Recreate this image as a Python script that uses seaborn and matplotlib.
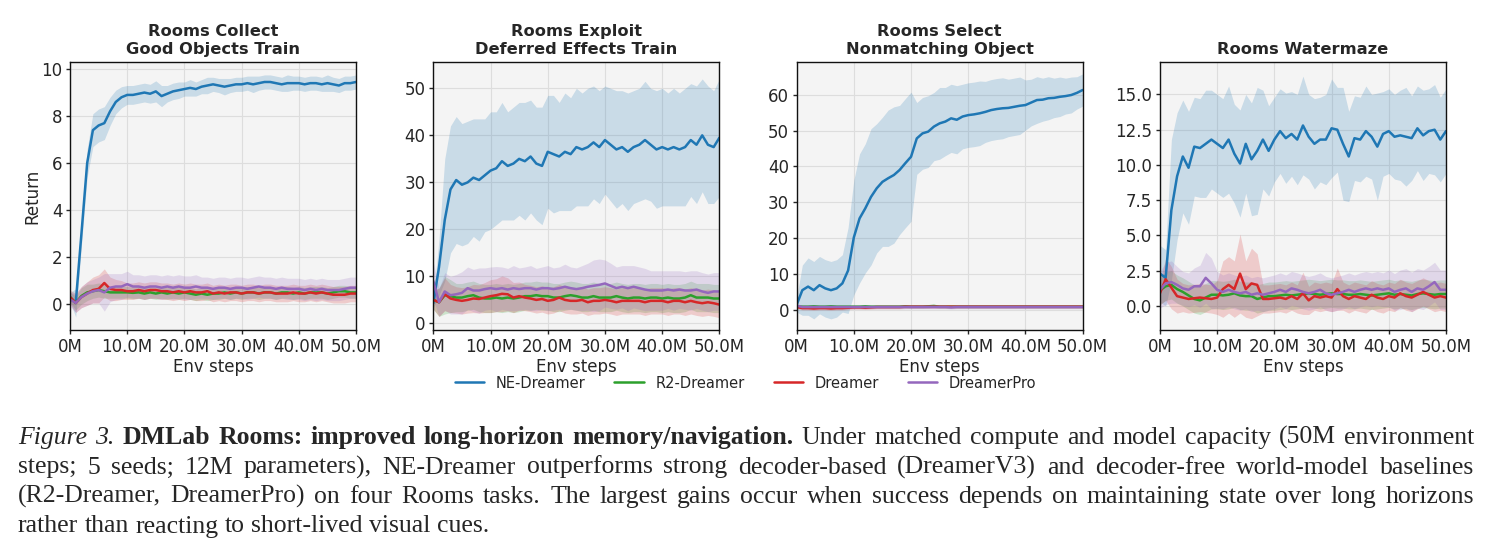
import numpy as np
import pandas as pd
import matplotlib
matplotlib.use("Agg")
import matplotlib.pyplot as plt
import seaborn as sns

# x axis: env steps in millions (one point per 1M)
steps_m = list(range(0, 51))
xtick_vals = [0, 10, 20, 30, 40, 50]
xtick_labels = ["0M", "10.0M", "20.0M", "30.0M", "40.0M", "50.0M"]

methods = ["NE-Dreamer", "R2-Dreamer", "Dreamer", "DreamerPro"]
colors = ["#1f77b4", "#2ca02c", "#d62728", "#9467bd"]

# ---- Rooms Collect Good Objects Train ----
collect_ne = [0.3, 0.05, 3.0, 6.0, 7.4, 7.6, 7.7, 8.2, 8.6, 8.8,
              8.9, 8.9, 8.95, 9.0, 8.95, 9.05, 8.85, 8.95, 9.05, 9.1,
              9.15, 9.2, 9.15, 9.25, 9.3, 9.35, 9.3, 9.25, 9.3, 9.35,
              9.35, 9.4, 9.35, 9.4, 9.45, 9.45, 9.4, 9.35, 9.4, 9.4,
              9.4, 9.35, 9.4, 9.4, 9.35, 9.4, 9.35, 9.3, 9.4, 9.4,
              9.45]
collect_ne_sd = [0.2, 0.6, 0.5, 0.6, 0.7, 0.7, 0.7, 0.6, 0.5, 0.45,
                 0.4, 0.4, 0.4, 0.4, 0.4, 0.45, 0.45, 0.35, 0.35, 0.35,
                 0.3, 0.35, 0.3, 0.3, 0.35, 0.3, 0.3, 0.35, 0.3, 0.3,
                 0.3, 0.3, 0.35, 0.3, 0.3, 0.3, 0.3, 0.3, 0.35, 0.3,
                 0.3, 0.3, 0.3, 0.3, 0.3, 0.35, 0.3, 0.3, 0.3, 0.3,
                 0.3]
collect_r2 = [0.3, 0.05, 0.35, 0.5, 0.55, 0.6, 0.55, 0.5, 0.5, 0.5,
              0.5, 0.48, 0.5, 0.45, 0.5, 0.45, 0.5, 0.45, 0.5, 0.45,
              0.5, 0.45, 0.4, 0.45, 0.4, 0.45, 0.45, 0.5, 0.45, 0.5,
              0.45, 0.5, 0.5, 0.45, 0.5, 0.5, 0.45, 0.5, 0.5, 0.45,
              0.5, 0.45, 0.5, 0.5, 0.5, 0.45, 0.5, 0.55, 0.55, 0.5,
              0.5]
collect_r2_sd = [0.2, 0.3, 0.35, 0.35, 0.3, 0.3, 0.3, 0.25, 0.25, 0.25,
                 0.25, 0.25, 0.25, 0.25, 0.25, 0.25, 0.25, 0.25, 0.25, 0.25,
                 0.25, 0.25, 0.25, 0.25, 0.25, 0.25, 0.25, 0.25, 0.25, 0.25,
                 0.25, 0.25, 0.25, 0.25, 0.25, 0.25, 0.25, 0.25, 0.25, 0.25,
                 0.25, 0.25, 0.25, 0.25, 0.25, 0.25, 0.25, 0.25, 0.25, 0.25,
                 0.25]
collect_dr = [0.3, 0.05, 0.3, 0.45, 0.6, 0.65, 0.9, 0.65, 0.6, 0.6,
              0.55, 0.55, 0.6, 0.55, 0.6, 0.6, 0.55, 0.55, 0.5, 0.55,
              0.5, 0.55, 0.5, 0.5, 0.55, 0.45, 0.5, 0.45, 0.5, 0.5,
              0.45, 0.5, 0.5, 0.45, 0.5, 0.5, 0.45, 0.45, 0.45, 0.5,
              0.45, 0.45, 0.5, 0.45, 0.5, 0.45, 0.4, 0.4, 0.4, 0.45,
              0.45]
collect_dr_sd = [0.3, 0.4, 0.45, 0.5, 0.55, 0.6, 0.6, 0.5, 0.45, 0.4,
                 0.35, 0.35, 0.35, 0.35, 0.35, 0.35, 0.35, 0.35, 0.35, 0.35,
                 0.35, 0.35, 0.35, 0.35, 0.35, 0.35, 0.35, 0.35, 0.35, 0.35,
                 0.35, 0.35, 0.35, 0.35, 0.35, 0.35, 0.35, 0.35, 0.35, 0.35,
                 0.35, 0.35, 0.35, 0.35, 0.35, 0.35, 0.35, 0.35, 0.35, 0.35,
                 0.35]
collect_pro = [0.2, 0.05, 0.3, 0.45, 0.55, 0.6, 0.5, 0.7, 0.75, 0.75,
               0.85, 0.75, 0.75, 0.7, 0.75, 0.75, 0.7, 0.75, 0.7, 0.75,
               0.7, 0.7, 0.75, 0.7, 0.7, 0.65, 0.7, 0.7, 0.65, 0.7,
               0.7, 0.65, 0.7, 0.75, 0.7, 0.7, 0.65, 0.7, 0.65, 0.65,
               0.65, 0.6, 0.65, 0.6, 0.65, 0.6, 0.6, 0.6, 0.65, 0.7,
               0.7]
collect_pro_sd = [0.3, 0.4, 0.45, 0.5, 0.5, 0.55, 0.8, 0.6, 0.55, 0.55,
                  0.55, 0.5, 0.5, 0.5, 0.5, 0.5, 0.5, 0.5, 0.5, 0.5,
                  0.5, 0.5, 0.5, 0.45, 0.45, 0.45, 0.45, 0.45, 0.45, 0.45,
                  0.45, 0.45, 0.45, 0.45, 0.45, 0.45, 0.45, 0.45, 0.45, 0.45,
                  0.45, 0.45, 0.45, 0.45, 0.45, 0.45, 0.45, 0.45, 0.45, 0.45,
                  0.45]

# ---- Rooms Exploit Deferred Effects Train ----
deferred_ne = [4.3, 12.0, 22.0, 28.5, 30.5, 29.5, 30.0, 31.0, 30.5, 31.5,
               32.5, 33.0, 34.5, 33.5, 34.0, 35.0, 34.5, 35.5, 34.0, 33.5,
               36.5, 36.0, 35.5, 36.5, 36.0, 37.5, 37.0, 37.5, 38.5, 37.5,
               39.0, 38.0, 37.0, 37.5, 36.5, 37.5, 38.0, 39.0, 38.0, 37.0,
               37.5, 37.0, 37.5, 37.0, 37.5, 39.0, 38.0, 40.0, 38.0, 37.5,
               39.5]
deferred_ne_sd = [1.0, 6.0, 13.0, 13.5, 13.5, 13.0, 13.0, 12.5, 13.0, 12.0,
                  12.5, 12.0, 12.5, 11.5, 12.0, 12.0, 12.5, 12.0, 12.0, 12.5,
                  12.0, 12.5, 11.5, 12.5, 12.0, 12.5, 12.0, 12.5, 12.0, 12.0,
                  11.5, 12.0, 12.5, 12.0, 12.5, 12.0, 12.0, 12.5, 12.0, 12.5,
                  12.5, 12.0, 12.5, 12.0, 12.5, 12.0, 12.5, 12.0, 12.5, 12.0,
                  12.5]
deferred_r2 = [5.0, 4.5, 6.0, 5.8, 5.5, 5.5, 5.8, 6.0, 5.5, 5.3,
               5.3, 5.5, 5.3, 5.5, 5.3, 5.5, 5.8, 5.8, 6.0, 5.8,
               5.8, 5.5, 5.5, 5.8, 6.0, 5.8, 5.5, 5.5, 5.8, 5.5,
               5.5, 5.5, 5.8, 5.5, 5.3, 5.5, 5.5, 5.3, 5.5, 5.5,
               5.3, 5.5, 5.3, 5.3, 5.5, 6.0, 5.5, 5.5, 5.5, 5.3,
               5.3]
deferred_r2_sd = [2.0, 3.0, 4.0, 3.5, 3.0, 3.0, 3.0, 3.0, 3.0, 3.0,
                  3.0, 3.0, 3.0, 3.0, 3.0, 3.0, 3.0, 3.0, 3.0, 3.0,
                  3.0, 3.0, 3.0, 3.0, 3.0, 3.0, 3.0, 3.0, 3.0, 3.0,
                  3.0, 3.0, 3.0, 3.0, 3.0, 3.0, 3.0, 3.0, 3.0, 3.0,
                  3.0, 3.0, 3.0, 3.0, 3.0, 3.0, 3.0, 3.0, 3.0, 3.0,
                  3.0]
deferred_dr = [5.0, 4.5, 6.2, 5.3, 5.0, 4.8, 5.0, 5.3, 5.2, 5.5,
               5.8, 6.0, 6.3, 6.2, 5.5, 5.8, 5.5, 5.3, 5.0, 5.2,
               4.8, 5.0, 5.5, 5.0, 4.8, 4.8, 5.0, 4.5, 4.8, 4.8,
               5.0, 4.8, 4.5, 4.8, 4.8, 4.8, 4.8, 4.5, 4.8, 4.8,
               4.8, 4.5, 4.8, 4.8, 4.5, 4.8, 4.5, 4.3, 4.5, 4.3,
               4.0]
deferred_dr_sd = [2.0, 3.0, 3.5, 3.0, 2.8, 2.8, 2.8, 3.0, 3.0, 3.2,
                  3.5, 3.5, 3.8, 3.5, 3.2, 3.0, 2.8, 2.8, 2.8, 2.8,
                  2.8, 2.8, 2.8, 2.8, 2.8, 2.8, 2.8, 2.8, 2.8, 2.8,
                  2.8, 2.8, 2.8, 2.8, 2.8, 2.8, 2.8, 2.8, 2.8, 2.8,
                  2.8, 2.8, 2.8, 2.8, 2.8, 2.8, 2.8, 2.8, 2.8, 2.8,
                  2.8]
deferred_pro = [9.0, 4.5, 6.8, 6.0, 6.2, 6.5, 7.5, 7.0, 7.0, 7.3,
                7.5, 7.3, 7.5, 7.2, 7.5, 7.3, 7.5, 7.5, 7.2, 7.5,
                7.5, 7.3, 7.5, 7.8, 7.5, 7.3, 7.5, 7.8, 8.0, 8.2,
                8.5, 8.0, 7.5, 7.8, 7.5, 7.8, 7.5, 7.2, 7.0, 7.0,
                7.0, 7.2, 7.0, 7.2, 7.0, 7.0, 7.2, 6.8, 6.5, 6.8,
                6.8]
deferred_pro_sd = [4.0, 3.0, 4.0, 4.0, 4.2, 4.5, 4.5, 4.5, 4.8, 4.5,
                   4.5, 4.8, 4.5, 4.5, 4.8, 4.5, 4.5, 4.8, 4.5, 4.5,
                   4.8, 4.5, 4.5, 4.8, 4.5, 4.5, 4.8, 5.0, 5.5, 5.5,
                   5.0, 4.8, 4.5, 4.5, 4.8, 4.5, 4.5, 4.5, 4.2, 4.2,
                   4.2, 4.0, 4.2, 4.0, 4.0, 4.2, 4.0, 4.0, 4.0, 4.0,
                   4.0]

# ---- Rooms Select Nonmatching Object ----
nonmatch_ne = [1.4, 5.5, 6.5, 5.5, 6.9, 6.0, 5.5, 6.0, 7.4, 11.0,
               20.2, 25.5, 28.3, 31.5, 33.9, 35.7, 36.7, 37.6, 39.0, 40.9,
               42.7, 47.8, 49.2, 49.7, 51.1, 52.0, 52.5, 53.4, 53.0, 53.9,
               54.3, 54.5, 54.8, 55.2, 55.7, 56.0, 56.2, 56.3, 56.6, 56.9,
               57.1, 57.8, 58.5, 58.6, 59.0, 59.1, 59.4, 59.6, 59.9, 60.5,
               61.3]
nonmatch_ne_sd = [2.0, 7.0, 8.0, 8.0, 8.0, 8.0, 8.0, 8.0, 8.0, 12.0,
                  16.0, 18.0, 18.0, 19.0, 18.0, 18.0, 19.0, 19.0, 18.0, 18.0,
                  18.0, 10.0, 10.0, 10.0, 9.5, 10.0, 9.5, 9.5, 9.5, 9.0,
                  9.0, 9.0, 9.0, 8.5, 8.5, 8.5, 8.5, 8.0, 8.0, 8.0,
                  7.0, 6.5, 6.5, 6.0, 6.0, 5.5, 5.5, 5.0, 5.0, 4.5,
                  4.5]
nonmatch_r2 = [1.0, 0.9, 0.9, 1.0, 0.9, 0.9, 1.0, 0.9, 0.9, 0.9,
               0.9, 0.9, 1.0, 0.9, 0.9, 0.9, 0.9, 0.9, 0.9, 1.0,
               0.9, 0.9, 0.9, 1.0, 1.1, 0.9, 0.9, 0.9, 0.9, 0.9,
               0.9, 0.9, 0.9, 0.9, 0.9, 0.9, 0.9, 0.9, 0.9, 0.9,
               0.9, 0.9, 0.9, 0.9, 0.9, 0.9, 0.9, 0.9, 0.9, 0.9,
               0.9]
nonmatch_r2_sd = [0.4] * 51
nonmatch_dr = [0.8, 0.5, 0.5, 0.4, 0.5, 0.5, 0.4, 0.5, 0.5, 0.6,
               0.7, 0.7, 0.6, 0.7, 0.8, 0.8, 0.8, 0.8, 0.8, 0.9,
               0.9, 0.9, 0.9, 0.9, 0.9, 0.9, 0.9, 0.9, 0.9, 0.9,
               0.9, 0.9, 0.9, 0.9, 0.9, 0.9, 0.9, 0.9, 0.9, 0.9,
               0.9, 0.9, 0.9, 0.9, 0.9, 0.9, 0.9, 0.9, 0.9, 0.9,
               0.9]
nonmatch_dr_sd = [0.5] * 51
nonmatch_pro = [1.2, 0.8, 0.8, 0.8, 0.8, 0.8, 0.8, 0.8, 0.8, 0.8,
                0.8, 0.8, 0.8, 0.8, 0.8, 0.8, 0.8, 0.8, 0.8, 0.8,
                0.8, 0.8, 0.8, 0.8, 0.8, 0.8, 0.8, 0.7, 0.8, 0.8,
                0.8, 0.8, 0.8, 0.8, 0.8, 0.8, 0.8, 0.8, 0.8, 0.8,
                0.8, 0.8, 0.8, 0.8, 0.8, 0.8, 0.8, 0.8, 0.8, 0.8,
                0.8]
nonmatch_pro_sd = [0.5] * 51

# ---- Rooms Watermaze ----
water_ne = [2.3, 2.0, 6.8, 9.2, 10.6, 9.8, 11.3, 11.2, 11.5, 11.8,
            11.5, 11.2, 11.8, 10.8, 10.1, 11.5, 10.4, 11.0, 11.8, 11.0,
            11.8, 12.4, 11.9, 12.2, 11.8, 12.8, 12.0, 11.5, 11.8, 11.8,
            12.6, 12.5, 11.5, 10.6, 11.9, 11.8, 12.4, 12.0, 11.3, 12.2,
            12.4, 12.0, 12.1, 12.0, 11.9, 12.6, 12.1, 12.4, 12.5, 11.8,
            12.4]
water_ne_sd = [2.0, 2.0, 5.0, 4.5, 4.0, 4.0, 3.5, 3.5, 3.8, 3.5,
               3.5, 3.5, 3.8, 3.5, 3.8, 3.5, 4.0, 4.5, 3.5, 3.2,
               3.0, 3.0, 3.2, 3.0, 3.2, 3.5, 3.0, 3.2, 3.0, 3.2,
               3.5, 3.0, 4.0, 3.2, 3.0, 3.0, 3.2, 3.0, 3.8, 3.0,
               3.0, 3.0, 3.2, 3.5, 3.0, 3.0, 3.2, 3.0, 3.2, 3.0,
               3.0]
water_r2 = [1.1, 1.4, 1.5, 1.2, 1.0, 0.75, 0.5, 0.4, 0.6, 0.8,
            0.8, 0.75, 0.8, 0.9, 0.75, 0.7, 0.7, 0.5, 0.6, 0.7,
            0.7, 0.75, 0.8, 0.75, 0.8, 0.85, 0.9, 0.85, 0.8, 0.85,
            0.9, 0.85, 0.85, 0.8, 0.8, 0.85, 0.8, 0.75, 0.8, 0.85,
            0.9, 0.8, 0.85, 0.8, 0.75, 0.85, 0.9, 0.85, 0.8, 0.85,
            0.85]
water_r2_sd = [1.0] * 51
water_dr = [0.9, 1.9, 1.3, 0.7, 0.6, 0.5, 0.55, 0.6, 0.55, 0.5,
            0.6, 1.2, 1.5, 1.2, 2.3, 1.2, 1.6, 1.5, 0.5, 0.5,
            0.55, 0.6, 0.5, 0.7, 0.5, 0.9, 0.4, 0.7, 0.6, 0.7,
            0.6, 1.2, 0.7, 0.5, 0.7, 0.6, 0.5, 0.8, 0.6, 0.5,
            0.7, 0.6, 0.9, 0.7, 0.6, 0.8, 1.0, 0.8, 0.6, 0.7,
            0.6]
water_dr_sd = [0.8, 1.5, 1.5, 1.2, 1.0, 1.0, 1.0, 1.0, 1.0, 1.0,
               1.2, 2.0, 2.0, 2.0, 2.8, 2.0, 2.5, 2.2, 1.0, 1.0,
               1.0, 1.0, 1.0, 1.0, 1.0, 1.5, 1.0, 1.0, 1.0, 1.0,
               1.0, 1.5, 1.0, 1.0, 1.0, 1.0, 1.0, 1.0, 1.0, 1.0,
               1.0, 1.0, 1.0, 1.0, 1.0, 1.0, 1.0, 1.0, 1.0, 1.0,
               1.0]
water_pro = [1.15, 1.6, 1.7, 1.5, 1.25, 1.15, 1.4, 1.4, 2.0, 1.6,
             1.15, 1.0, 1.15, 1.0, 0.9, 1.0, 0.8, 0.9, 0.8, 0.9,
             1.0, 1.15, 1.0, 1.25, 1.15, 1.0, 0.9, 1.0, 1.15, 0.9,
             0.8, 0.9, 1.0, 1.15, 1.0, 1.15, 1.25, 1.15, 1.25, 1.15,
             1.25, 1.0, 1.15, 1.25, 1.0, 1.25, 1.15, 1.4, 1.7, 1.15,
             1.15]
water_pro_sd = [1.3, 1.5, 1.5, 1.3, 1.2, 1.2, 1.3, 1.5, 1.8, 1.8,
                1.3, 1.2, 1.2, 1.2, 1.2, 1.2, 1.2, 1.2, 1.2, 1.2,
                1.2, 1.2, 1.2, 1.2, 1.2, 1.2, 1.2, 1.2, 1.2, 1.2,
                1.2, 1.2, 1.2, 1.2, 1.2, 1.2, 1.2, 1.2, 1.2, 1.2,
                1.3, 1.3, 1.4, 1.4, 1.4, 1.4, 1.4, 1.4, 1.4, 1.4,
                1.4]

panel_titles = ["Rooms Collect\nGood Objects Train",
                "Rooms Exploit\nDeferred Effects Train",
                "Rooms Select\nNonmatching Object",
                "Rooms Watermaze"]
panel_means = [[collect_ne, collect_r2, collect_dr, collect_pro],
               [deferred_ne, deferred_r2, deferred_dr, deferred_pro],
               [nonmatch_ne, nonmatch_r2, nonmatch_dr, nonmatch_pro],
               [water_ne, water_r2, water_dr, water_pro]]
panel_sds = [[collect_ne_sd, collect_r2_sd, collect_dr_sd, collect_pro_sd],
             [deferred_ne_sd, deferred_r2_sd, deferred_dr_sd, deferred_pro_sd],
             [nonmatch_ne_sd, nonmatch_r2_sd, nonmatch_dr_sd, nonmatch_pro_sd],
             [water_ne_sd, water_r2_sd, water_dr_sd, water_pro_sd]]
panel_ylims = [(-1.1, 10.3), (-1.4, 55.6), (-5.6, 69.1), (-1.7, 17.3)]
panel_yticks = [[0, 2, 4, 6, 8, 10], [0, 10, 20, 30, 40, 50],
                [0, 10, 20, 30, 40, 50, 60], [0.0, 2.5, 5.0, 7.5, 10.0, 12.5, 15.0]]

sns.set_theme(style="ticks", rc={
    "axes.facecolor": "#f4f4f4",
    "axes.edgecolor": "#111111",
    "axes.linewidth": 1.0,
    "grid.color": "#dddddd",
    "grid.linewidth": 0.8,
    "xtick.labelsize": 12,
    "ytick.labelsize": 12,
    "axes.labelsize": 12,
    "xtick.major.size": 3,
    "ytick.major.size": 3,
    "xtick.major.width": 1.0,
    "ytick.major.width": 1.0,
    "xtick.major.pad": 2.5,
    "ytick.major.pad": 2.5,
})
plt.rcParams['font.family'] = ['DejaVu Sans']

fig, axes = plt.subplots(1, 4, figsize=(14.91, 5.58), dpi=100)
fig.subplots_adjust(left=70 / 1491, right=1446 / 1491, bottom=228 / 558, top=496 / 558, wspace=0.27)

for i, ax in enumerate(axes):
    means = panel_means[i]
    sds = panel_sds[i]
    x = np.array(steps_m)
    for m, sd, c in zip(means, sds, colors):
        m = np.array(m)
        sd = np.array(sd)
        ax.fill_between(x, m - sd, m + sd, color=c, alpha=0.2, linewidth=0)
    df = pd.DataFrame({
        "step": list(steps_m) * 4,
        "ret": sum([list(v) for v in means], []),
        "method": sum([[name] * len(steps_m) for name in methods], []),
    })
    sns.lineplot(data=df, x="step", y="ret", hue="method", hue_order=methods,
                 palette=colors, errorbar=None, legend=False, linewidth=1.8, ax=ax)
    ax.set_xlim(0, 50)
    ax.set_ylim(*panel_ylims[i])
    ax.set_xticks(xtick_vals)
    ax.set_xticklabels(xtick_labels)
    ax.set_yticks(panel_yticks[i])
    if i == 3:
        ax.set_yticklabels([f"{v:.1f}" for v in panel_yticks[i]])
    ax.grid(True)
    ax.set_title(panel_titles[i], fontsize=11.7, fontweight="bold", pad=6)
    ax.set_xlabel("Env steps", labelpad=2)
    ax.set_ylabel("Return" if i == 0 else "", labelpad=0)

handles = [plt.Line2D([0], [0], color=c, lw=1.8) for c in colors]
fig.legend(handles, methods, loc="center", bbox_to_anchor=(0.5, 1 - 383 / 558),
           ncol=4, frameon=False, fontsize=10.5)

# caption below the figure, justified like the paper
cap_lines = [
    [("Figure 3.", "italic", "normal"),
     ("DMLab Rooms: improved long-horizon memory/navigation.", "normal", "bold"),
     ("Under matched compute and model capacity (50M environment", "normal", "normal")],
    [("steps; 5 seeds; 12M parameters), NE-Dreamer outperforms strong decoder-based (DreamerV3) and decoder-free world-model baselines", "normal", "normal")],
    [("(R2-Dreamer, DreamerPro) on four Rooms tasks. The largest gains occur when success depends on maintaining state over long horizons", "normal", "normal")],
    [("rather than reacting to short-lived visual cues.", "normal", "normal")],
]
cap_baselines = [444, 473.5, 503, 532.5]
cap_left, cap_right = 18, 1474
cap_size = 18.5

renderer = fig.canvas.get_renderer()
for j, parts in enumerate(cap_lines):
    words = []
    for text, style, weight in parts:
        for w in text.split():
            t = fig.text(0, 1 - cap_baselines[j] / 558, w, family="Liberation Serif",
                         fontsize=cap_size, style=style, weight=weight, va="baseline")
            words.append(t)
    widths = [t.get_window_extent(renderer).width for t in words]
    if j < len(cap_lines) - 1:
        gap = (cap_right - cap_left - sum(widths)) / (len(words) - 1)
    else:
        gap = cap_size * 100 / 72 * 0.25
    xpos = cap_left
    for t, w in zip(words, widths):
        t.set_x(xpos / 1491)
        xpos += w + gap

fig.savefig("out.png", dpi=100)
